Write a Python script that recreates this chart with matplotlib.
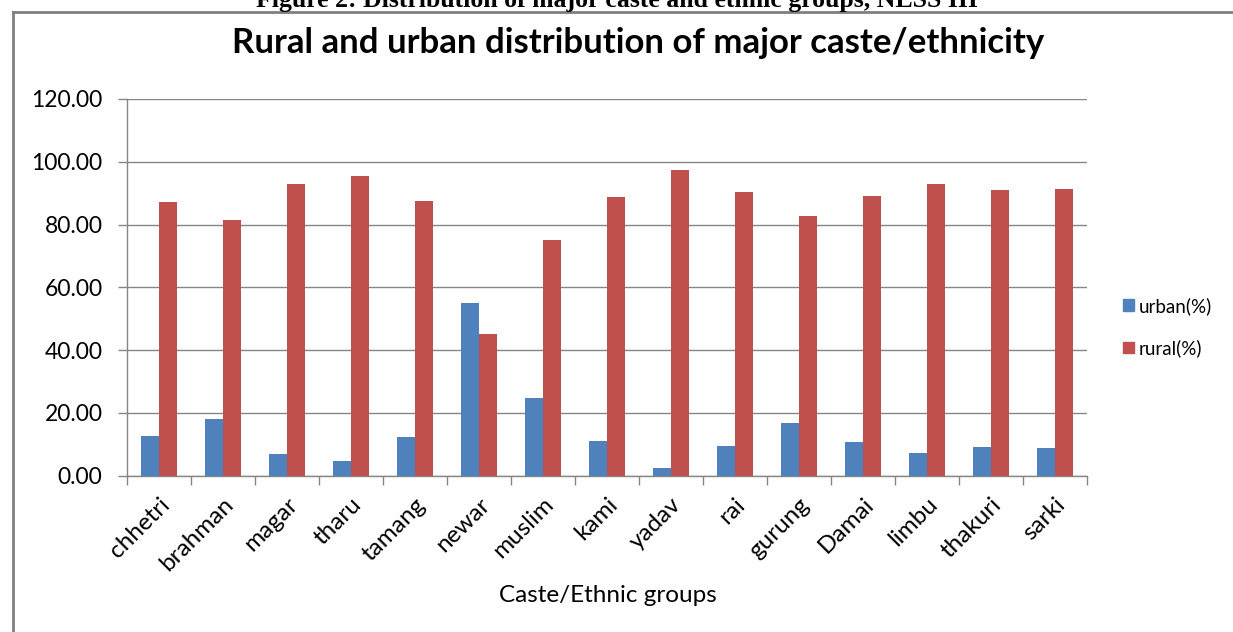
import numpy as np
import matplotlib.pyplot as plt
from matplotlib.lines import Line2D
from matplotlib.patches import Patch

# data
groups = ['chhetri', 'brahman', 'magar', 'tharu', 'tamang', 'newar', 'muslim',
          'kami', 'yadav', 'rai', 'gurung', 'Damai', 'limbu', 'thakuri', 'sarki']
urban = [12.7, 18.1, 7.0, 4.6, 12.3, 54.9, 24.7, 11.1, 2.5, 9.6, 16.9, 10.7, 7.1, 9.1, 8.7]
rural = [87.1, 81.4, 92.8, 95.4, 87.6, 45.0, 75.2, 88.8, 97.4, 90.5, 82.6, 89.2, 92.8, 90.9, 91.2]
yticks = [0, 20, 40, 60, 80, 100, 120]

blue = '#4F81BD'
red = '#C0504D'
grid_col = '#868686'

fig = plt.figure(figsize=(12.33, 6.32), dpi=100)
ax = fig.add_axes([0.1028, 0.2473, 0.7785, 0.5961])

x = np.arange(len(groups))
w = 0.28
ax.bar(x - w / 2, urban, w, color=blue, label='urban(%)', zorder=3)
ax.bar(x + w / 2, rural, w, color=red, label='rural(%)', zorder=3)

ax.set_xlim(-0.5, len(groups) - 0.5)
ax.set_ylim(0, 120)
ax.set_yticks(yticks)
ax.set_yticklabels(['%.2f' % v for v in yticks], fontsize=16.5, family='Lato')
ax.yaxis.grid(True, color=grid_col, linewidth=1, zorder=0)

# category labels at centres, tick marks at boundaries
ax.set_xticks(x)
ax.set_xticklabels(groups, rotation=45, ha='right', rotation_mode='anchor',
                   fontsize=17.5, family='Lato')
ax.set_xticks(np.arange(-0.5, len(groups)), minor=True)
ax.tick_params(axis='x', which='major', length=0, pad=13)
ax.tick_params(axis='x', which='minor', length=6.5, color=grid_col, width=1)
ax.tick_params(axis='y', length=6.5, color=grid_col, width=1, pad=11)

for s in ['top', 'right']:
    ax.spines[s].set_visible(False)
for s in ['left', 'bottom']:
    ax.spines[s].set_color(grid_col)
    ax.spines[s].set_linewidth(1)

fig.text(608 / 1233, 1 - 595 / 632, 'Caste/Ethnic groups', fontsize=17.5,
         family='Lato', ha='center', va='center')

fig.text(638 / 1233, 1 - 53 / 632, 'Rural and urban distribution of major caste/ethnicity',
         fontsize=25, family='Lato', weight='bold', ha='center', va='baseline')

fig.text(617 / 1233, 1 - 7 / 632,
         'Figure 2: Distribution of major caste and ethnic groups, NLSS III',
         fontsize=18.5, family='Liberation Serif', weight='bold', ha='center', va='baseline')

handles = [Patch(color=blue), Patch(color=red)]
fig.legend(handles, ['urban(%)', 'rural(%)'], loc='center left',
           bbox_to_anchor=(1123 / 1233, 1 - 327 / 632), frameon=False,
           prop={'family': 'Lato', 'size': 13.5}, handlelength=0.6, handleheight=0.6,
           handletextpad=0.25, labelspacing=1.3, borderaxespad=0, borderpad=0)

# chart border (left and top edges visible in the crop)
fig.add_artist(Line2D([13 / 1233, 13 / 1233], [0, 1 - 12 / 632], transform=fig.transFigure,
                      color='#7f7f7f', linewidth=2))
fig.add_artist(Line2D([13 / 1233, 1], [1 - 12 / 632, 1 - 12 / 632], transform=fig.transFigure,
                      color='#7f7f7f', linewidth=2))

fig.savefig('out.png', dpi=100)
